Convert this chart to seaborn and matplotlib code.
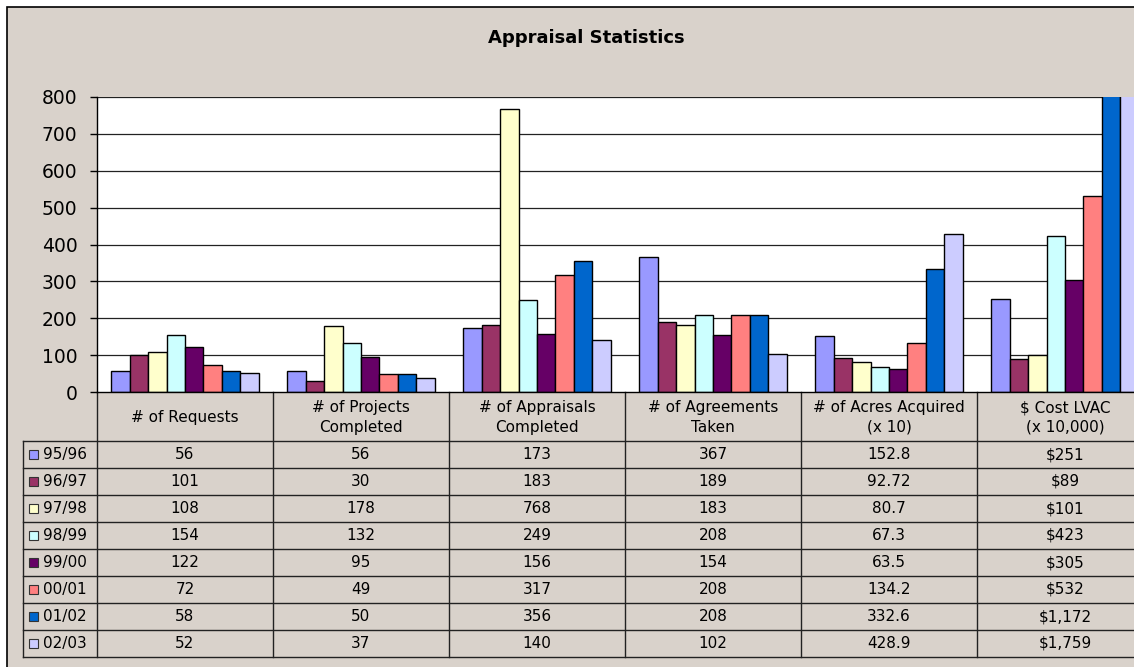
import numpy as np
import pandas as pd
import matplotlib
matplotlib.use("Agg")
import matplotlib.pyplot as plt
import matplotlib.transforms as mtransforms
from matplotlib.patches import Rectangle
import seaborn as sns

# data
categories = ["# of Requests", "# of Projects\nCompleted", "# of Appraisals\nCompleted",
              "# of Agreements\nTaken", "# of Acres Acquired\n(x 10)", "$ Cost LVAC\n(x 10,000)"]
seasons = ["95/96", "96/97", "97/98", "98/99", "99/00", "00/01", "01/02", "02/03"]
requests = [56, 101, 108, 154, 122, 72, 58, 52]
projects = [56, 30, 178, 132, 95, 49, 50, 37]
appraisals = [173, 183, 768, 249, 156, 317, 356, 140]
agreements = [367, 189, 183, 208, 154, 208, 208, 102]
acres = [152.8, 92.72, 80.7, 67.3, 63.5, 134.2, 332.6, 428.9]
cost = [251, 89, 101, 423, 305, 532, 1172, 1759]
colors = ["#9999FF", "#993366", "#FFFFCC", "#CCFFFF", "#660066", "#FF8080", "#0066CC", "#CCCCFF"]
yticks = [0, 100, 200, 300, 400, 500, 600, 700, 800]

series = [requests, projects, appraisals, agreements, acres, cost]
rows = []
for c, vals in zip(categories, series):
    for s, v in zip(seasons, vals):
        rows.append({"category": c, "season": s, "value": v})
df = pd.DataFrame(rows)

W, H = 1134, 667
bg = "#D9D2CB"
plt.rcParams["font.family"] = ["DejaVu Sans"]

fig = plt.figure(figsize=(W / 100, H / 100), dpi=100, facecolor="white")

def fx(x):
    return x / W

def fy(y):
    return 1 - y / H

# outer chart area
fig.patches.append(Rectangle((fx(7), fy(700)), fx(1200), fy(7) - fy(700), transform=fig.transFigure,
                             facecolor=bg, edgecolor="black", linewidth=1.2, zorder=-10))

ax = fig.add_axes([fx(97), fy(392), fx(1153 - 97), fy(97) - fy(392)])
ax.set_facecolor("white")
sns.barplot(data=df, x="category", y="value", hue="season", palette=colors, hue_order=seasons,
            order=categories, width=0.84, saturation=1, edgecolor="black", linewidth=1,
            legend=False, ax=ax)
ax.set_xlim(-0.5, 5.5)
ax.set_ylim(0, 800)
ax.set_yticks(yticks)
ax.set_yticklabels([str(t) for t in yticks], fontsize=13.5)
ax.tick_params(axis="y", length=5, width=1, pad=9, direction="out")
ax.set_xticks([])
ax.set_xlabel("")
ax.set_ylabel("")
ax.grid(False)
for t in yticks[1:]:
    ax.axhline(t, color="#222222", linewidth=0.9, zorder=0)
ax.set_axisbelow(True)
for sp in ["top", "right"]:
    ax.spines[sp].set_visible(False)
ax.spines["left"].set_linewidth(1)
ax.spines["bottom"].set_linewidth(1)

fig.text(fx(586), fy(38), "Appraisal Statistics", ha="center", va="center",
         fontsize=13, fontweight="bold")

# data table below the axis
trans = mtransforms.blended_transform_factory(ax.transData, fig.transFigure)
top_y, head_y, row_h = 392, 441, 27
bottom_y = head_y + row_h * len(seasons)
lc = "#222222"

for i in range(len(categories) + 1):
    xb = i - 0.5
    ax.add_line(plt.Line2D([xb, xb], [fy(top_y), fy(bottom_y)], transform=trans,
                           color=lc, linewidth=1, clip_on=False))
fig.add_artist(plt.Line2D([fx(23), fx(23)], [fy(head_y), fy(bottom_y)], transform=fig.transFigure,
                          color=lc, linewidth=1))
for r in range(len(seasons) + 1):
    y = head_y + r * row_h
    fig.add_artist(plt.Line2D([fx(23), 1.05], [fy(y), fy(y)], transform=fig.transFigure,
                              color=lc, linewidth=1))

for i, c in enumerate(categories):
    ax.text(i, fy((top_y + head_y) / 2 + 1), c, transform=trans, ha="center", va="center",
            fontsize=11, linespacing=1.35, clip_on=False)

for r, s in enumerate(seasons):
    yc = fy(head_y + r * row_h + row_h / 2)
    fig.patches.append(Rectangle((fx(29), yc - 4.5 / H), fx(9), 9 / H, transform=fig.transFigure,
                                 facecolor=colors[r], edgecolor="#333333", linewidth=0.8))
    fig.text(fx(43), yc, s, ha="left", va="center", fontsize=11)
    for i, vals in enumerate(series):
        v = vals[r]
        if i == 5:
            txt = f"${v:,.0f}"
        else:
            txt = f"{v:g}"
        ax.text(i, yc, txt, transform=trans, ha="center", va="center", fontsize=11, clip_on=False)

fig.savefig("out.png", dpi=100, facecolor="white")
